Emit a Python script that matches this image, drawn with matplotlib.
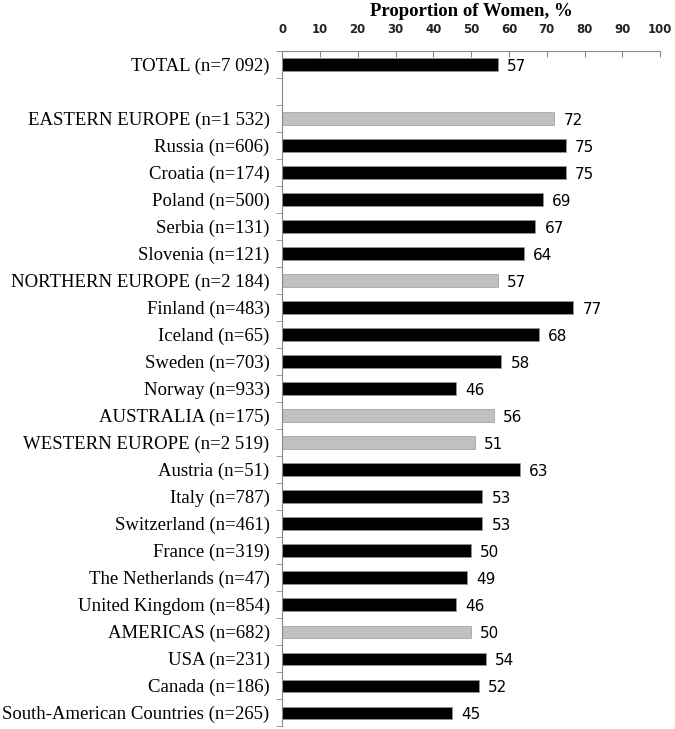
import numpy as np
import matplotlib.pyplot as plt

labels = ["TOTAL (n=7 092)", "",
          "EASTERN EUROPE (n=1 532)", "Russia (n=606)", "Croatia (n=174)",
          "Poland (n=500)", "Serbia (n=131)", "Slovenia (n=121)",
          "NORTHERN EUROPE (n=2 184)", "Finland (n=483)", "Iceland (n=65)",
          "Sweden (n=703)", "Norway (n=933)",
          "AUSTRALIA (n=175)",
          "WESTERN EUROPE (n=2 519)", "Austria (n=51)", "Italy (n=787)",
          "Switzerland (n=461)", "France (n=319)", "The Netherlands (n=47)",
          "United Kingdom (n=854)",
          "AMERICAS (n=682)", "USA (n=231)", "Canada (n=186)",
          "South-American Countries (n=265)"]
values = [57, np.nan,
          72, 75, 75, 69, 67, 64,
          57, 77, 68, 58, 46,
          56,
          51, 63, 53, 53, 50, 49, 46,
          50, 54, 52, 45]
regions = ["EASTERN EUROPE", "NORTHERN EUROPE", "AUSTRALIA", "WESTERN EUROPE", "AMERICAS"]

fig = plt.figure(figsize=(6.75, 7.29), dpi=100)
ax = fig.add_axes([0.418, 0.004, 0.56, 0.926])

y = np.arange(len(labels))
colors = ["#c0c0c0" if any(l.startswith(r) for r in regions) else "black" for l in labels]
ax.barh(y, values, height=0.45, color=colors, edgecolor="#999999", linewidth=0.5)

for yi, v in zip(y, values):
    if not np.isnan(v):
        ax.text(v + 2.4, yi + 0.08, f"{v:g}", va="center", ha="left",
                fontsize=11, family="DejaVu Sans")

ax.set_xlim(0, 100)
ax.set_ylim(len(labels) - 0.5, -0.5)
ax.xaxis.tick_top()
ax.set_xticks(range(0, 101, 10))
ax.tick_params(axis="x", direction="in", length=4, color="#888888", labelsize=8.5, pad=11)
for t in ax.get_xticklabels():
    t.set_fontweight("bold")
    t.set_color("#222222")

ax.set_yticks(y)
ax.set_yticklabels(labels, family="Liberation Serif", fontsize=13.5)
ax.tick_params(axis="y", length=0, pad=9)
ax.set_yticks(np.arange(len(labels) + 1) - 0.5, minor=True)
ax.tick_params(axis="y", which="minor", length=4, color="#888888")

for s in ["right", "bottom"]:
    ax.spines[s].set_visible(False)
for s in ["top", "left"]:
    ax.spines[s].set_color("#888888")
    ax.spines[s].set_linewidth(0.8)

fig.text(0.698, 0.984, "Proportion of Women, %", ha="center", va="center",
         family="Liberation Serif", fontweight="bold", fontsize=13.5)

fig.savefig("out.png", dpi=100)
